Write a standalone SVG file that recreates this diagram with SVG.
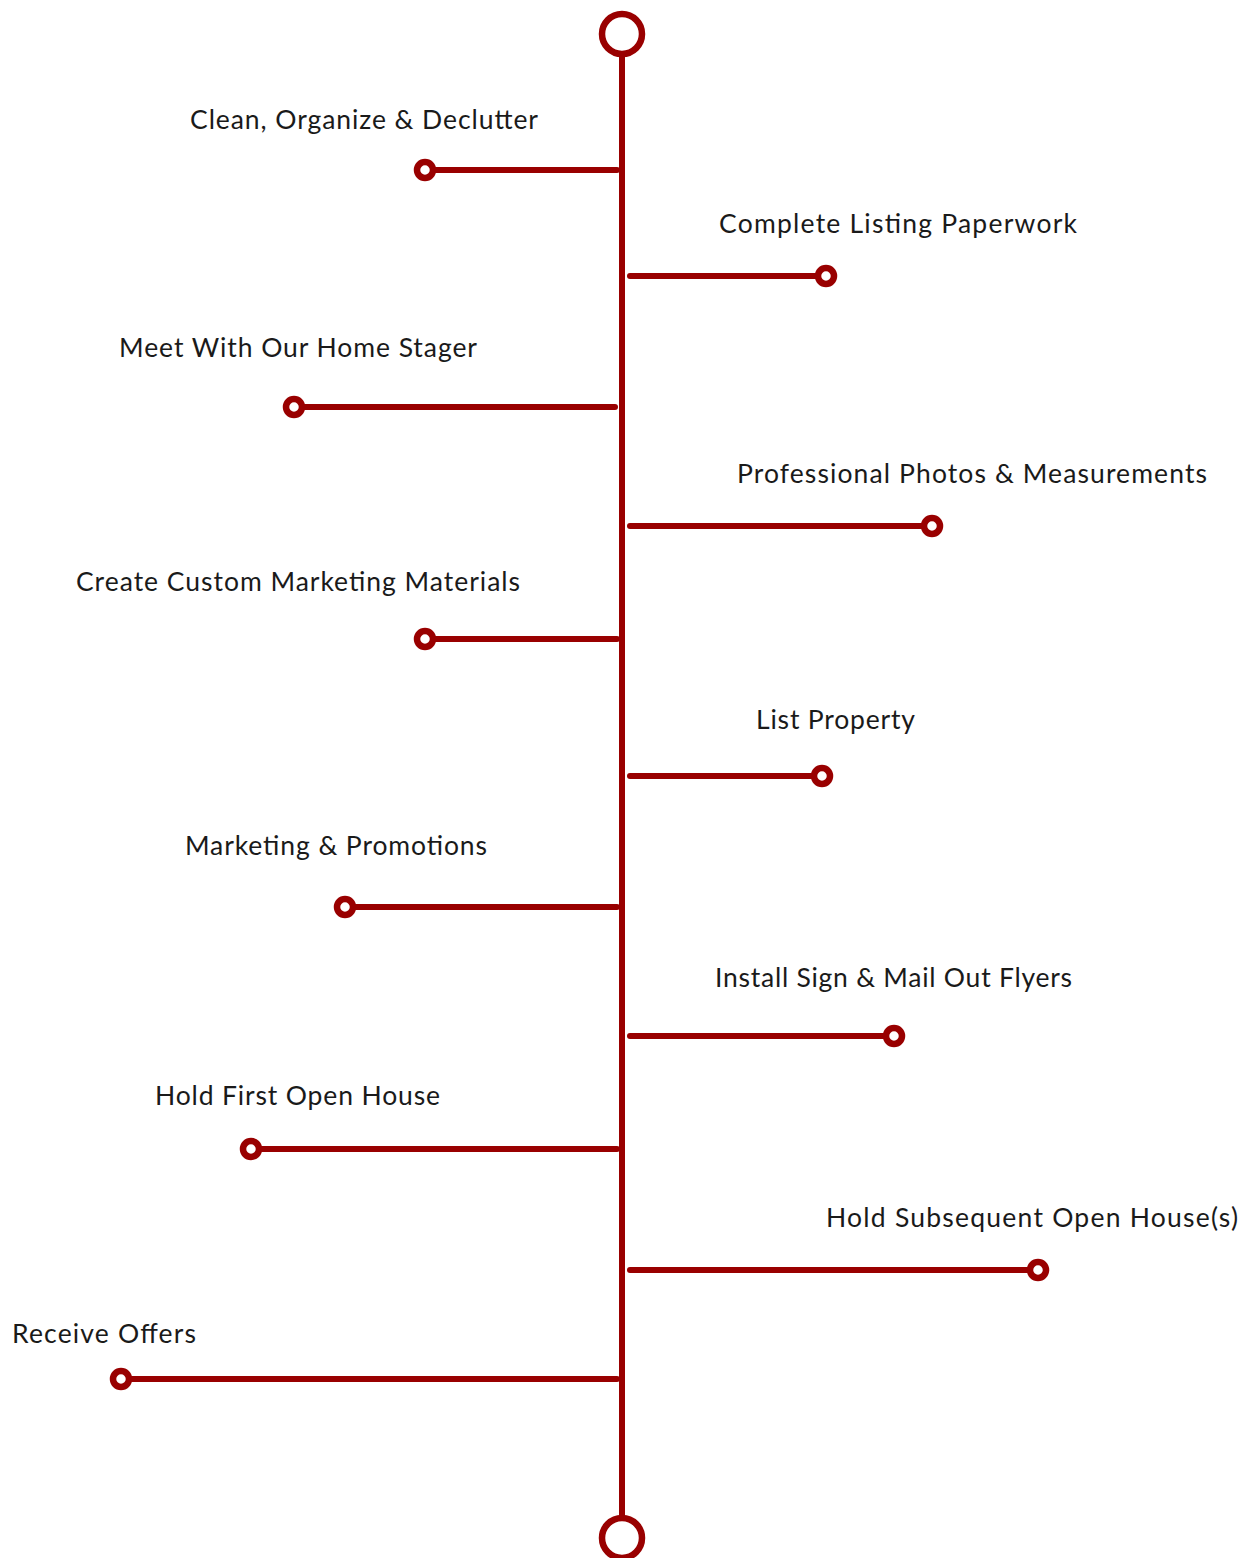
<svg xmlns="http://www.w3.org/2000/svg" width="1253" height="1558" viewBox="0 0 1253 1558">
<style>
.ln{stroke:#990000;stroke-width:6;stroke-linecap:round;fill:none}
.end{fill:#fff;stroke:#990000;stroke-width:6.5}
.big{fill:#fff;stroke:#990000;stroke-width:6.5}
.lbl{font-family:Lato,"Open Sans","Liberation Sans",sans-serif;font-size:26.5px;fill:#1a1a1a;font-weight:400}
</style>
<rect width="1253" height="1558" fill="#fff"/>
<g id="connectors">
<line class="ln" x1="622" y1="33" x2="622" y2="1538"/>
<line class="ln" x1="425" y1="170" x2="617" y2="170"/>
<line class="ln" x1="630" y1="276" x2="826" y2="276"/>
<line class="ln" x1="294" y1="407" x2="615" y2="407"/>
<line class="ln" x1="630" y1="526" x2="932" y2="526"/>
<line class="ln" x1="425" y1="639" x2="617" y2="639"/>
<line class="ln" x1="630" y1="776" x2="822" y2="776"/>
<line class="ln" x1="345" y1="907" x2="617" y2="907"/>
<line class="ln" x1="630" y1="1036" x2="894" y2="1036"/>
<line class="ln" x1="251" y1="1149" x2="617" y2="1149"/>
<line class="ln" x1="630" y1="1270" x2="1038" y2="1270"/>
<line class="ln" x1="121" y1="1379" x2="617" y2="1379"/>
</g>
<g id="start"><circle class="big" cx="622" cy="34" r="20"/></g>
<g id="end"><circle class="big" cx="622" cy="1538" r="20"/></g>
<g id="n1"><circle class="end" cx="425" cy="170" r="8"/><text class="lbl" x="190" y="129" textLength="348">Clean, Organize &amp; Declutter</text></g>
<g id="n2"><circle class="end" cx="826" cy="276" r="8"/><text class="lbl" x="719" y="233" textLength="358">Complete Listing Paperwork</text></g>
<g id="n3"><circle class="end" cx="294" cy="407" r="8"/><text class="lbl" x="119" y="357" textLength="358">Meet With Our Home Stager</text></g>
<g id="n4"><circle class="end" cx="932" cy="526" r="8"/><text class="lbl" x="737" y="483" textLength="470">Professional Photos &amp; Measurements</text></g>
<g id="n5"><circle class="end" cx="425" cy="639" r="8"/><text class="lbl" x="76" y="591" textLength="444">Create Custom Marketing Materials</text></g>
<g id="n6"><circle class="end" cx="822" cy="776" r="8"/><text class="lbl" x="756" y="729" textLength="159">List Property</text></g>
<g id="n7"><circle class="end" cx="345" cy="907" r="8"/><text class="lbl" x="185" y="855" textLength="302">Marketing &amp; Promotions</text></g>
<g id="n8"><circle class="end" cx="894" cy="1036" r="8"/><text class="lbl" x="715" y="987" textLength="357">Install Sign &amp; Mail Out Flyers</text></g>
<g id="n9"><circle class="end" cx="251" cy="1149" r="8"/><text class="lbl" x="155" y="1105" textLength="285">Hold First Open House</text></g>
<g id="n10"><circle class="end" cx="1038" cy="1270" r="8"/><text class="lbl" x="826" y="1227" textLength="412">Hold Subsequent Open House(s)</text></g>
<g id="n11"><circle class="end" cx="121" cy="1379" r="8"/><text class="lbl" x="12" y="1343" textLength="184">Receive Offers</text></g>
</svg>
